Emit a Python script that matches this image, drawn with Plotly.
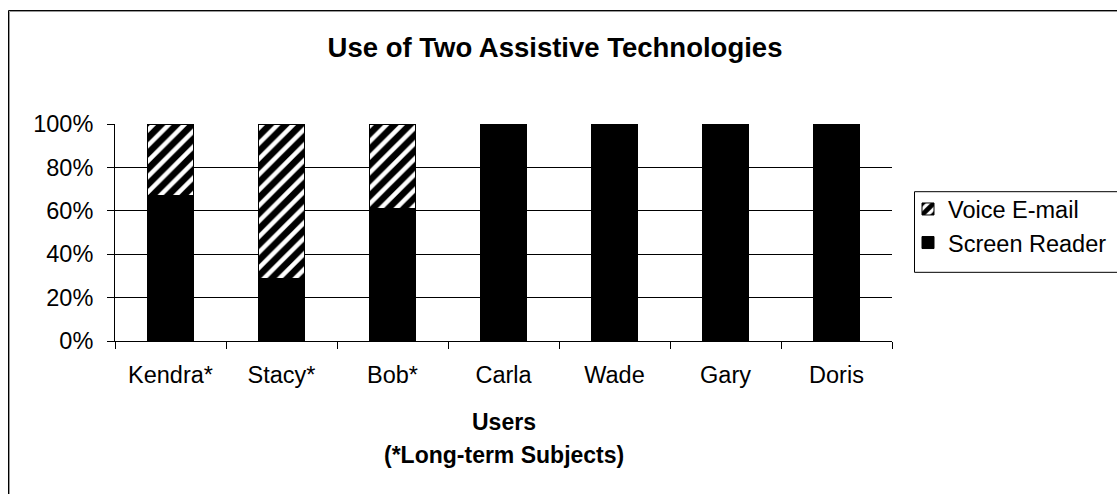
import plotly.graph_objects as go

# Share of use per user (fractions of 100%)
users = ["Kendra*", "Stacy*", "Bob*", "Carla", "Wade", "Gary", "Doris"]
screen_reader = [0.67, 0.29, 0.61, 1.0, 1.0, 1.0, 1.0]
voice_email = [0.33, 0.71, 0.39, 0.0, 0.0, 0.0, 0.0]
y_ticks = [0, 0.2, 0.4, 0.6, 0.8, 1.0]

W, H = 1117, 494
L, R, T, B = 115, 225, 123.5, 152.5
PW, PH = W - L - R, H - T - B

def px(x):
    return (x - L) / PW

def py(y):
    return (H - B - y) / PH

FONT = "Arial, Liberation Sans, sans-serif"

fig = go.Figure()
fig.add_trace(go.Bar(
    x=users, y=screen_reader, name="Screen Reader", legendgroup="sr", legendrank=2,
    marker=dict(color="black", line=dict(color="black", width=1)),
))
fig.add_trace(go.Bar(
    x=users, y=voice_email, name="Voice E-mail", legendgroup="ve", legendrank=1,
    marker=dict(color="white", line=dict(color="black", width=1),
                pattern=dict(shape="/", fgcolor="#000000", bgcolor="white",
                             fgopacity=1, size=11, solidity=0.6)),
))

shapes = [
    # outer chart frame
    dict(type="rect", xref="paper", yref="paper",
         x0=px(9.5), x1=px(1140), y0=py(515), y1=py(10.5),
         line=dict(color="#9a9a9a", width=1)),
    dict(type="rect", xref="paper", yref="paper",
         x0=px(8.5), x1=px(1140), y0=py(515), y1=py(9.5),
         line=dict(color="black", width=1)),
    # legend frame
    dict(type="rect", xref="paper", yref="paper",
         x0=px(914.5), x1=px(1140), y0=py(272.5), y1=py(191.5),
         line=dict(color="black", width=1)),
]

annotations = [
    dict(text="<b>Users</b>", xref="paper", yref="paper", x=0.5, y=py(423),
         xanchor="center", yanchor="middle", showarrow=False,
         font=dict(size=23, color="black", family=FONT)),
    dict(text="<b>(*Long-term Subjects)</b>", xref="paper", yref="paper",
         x=0.5, y=py(456), xanchor="center", yanchor="middle", showarrow=False,
         font=dict(size=23, color="black", family=FONT)),
]

fig.update_layout(
    width=W, height=H,
    margin=dict(l=L, r=R, t=T, b=B, autoexpand=False),
    paper_bgcolor="white", plot_bgcolor="white",
    barmode="stack", bargap=0.586,
    font=dict(family=FONT, size=23, color="black"),
    title=dict(text="<b>Use of Two Assistive Technologies</b>",
               x=555 / W, xanchor="center",
               y=1 - 47 / H, yanchor="middle", yref="container",
               font=dict(size=27.5, color="black", family=FONT)),
    xaxis=dict(type="category", showline=True, linecolor="black", linewidth=1,
               ticks="outside", ticklen=7, tickcolor="black", tickson="boundaries",
               showgrid=False, ticklabelstandoff=13,
               tickfont=dict(size=23.5, color="black")),
    yaxis=dict(range=[0, 1], tickvals=y_ticks, tickformat=".0%",
               showline=True, linecolor="black", linewidth=1,
               ticks="outside", ticklen=7, tickcolor="black",
               showgrid=True, gridcolor="black", gridwidth=1, zeroline=False,
               ticklabelstandoff=9, tickfont=dict(size=23.5, color="black")),
    legend=dict(x=px(908), xanchor="left", y=py(187), yanchor="top",
                traceorder="grouped", tracegroupgap=0,
                bgcolor="rgba(0,0,0,0)", borderwidth=0,
                font=dict(size=23.5, color="black", family=FONT)),
    shapes=shapes, annotations=annotations,
)

fig.write_html("out.html")
